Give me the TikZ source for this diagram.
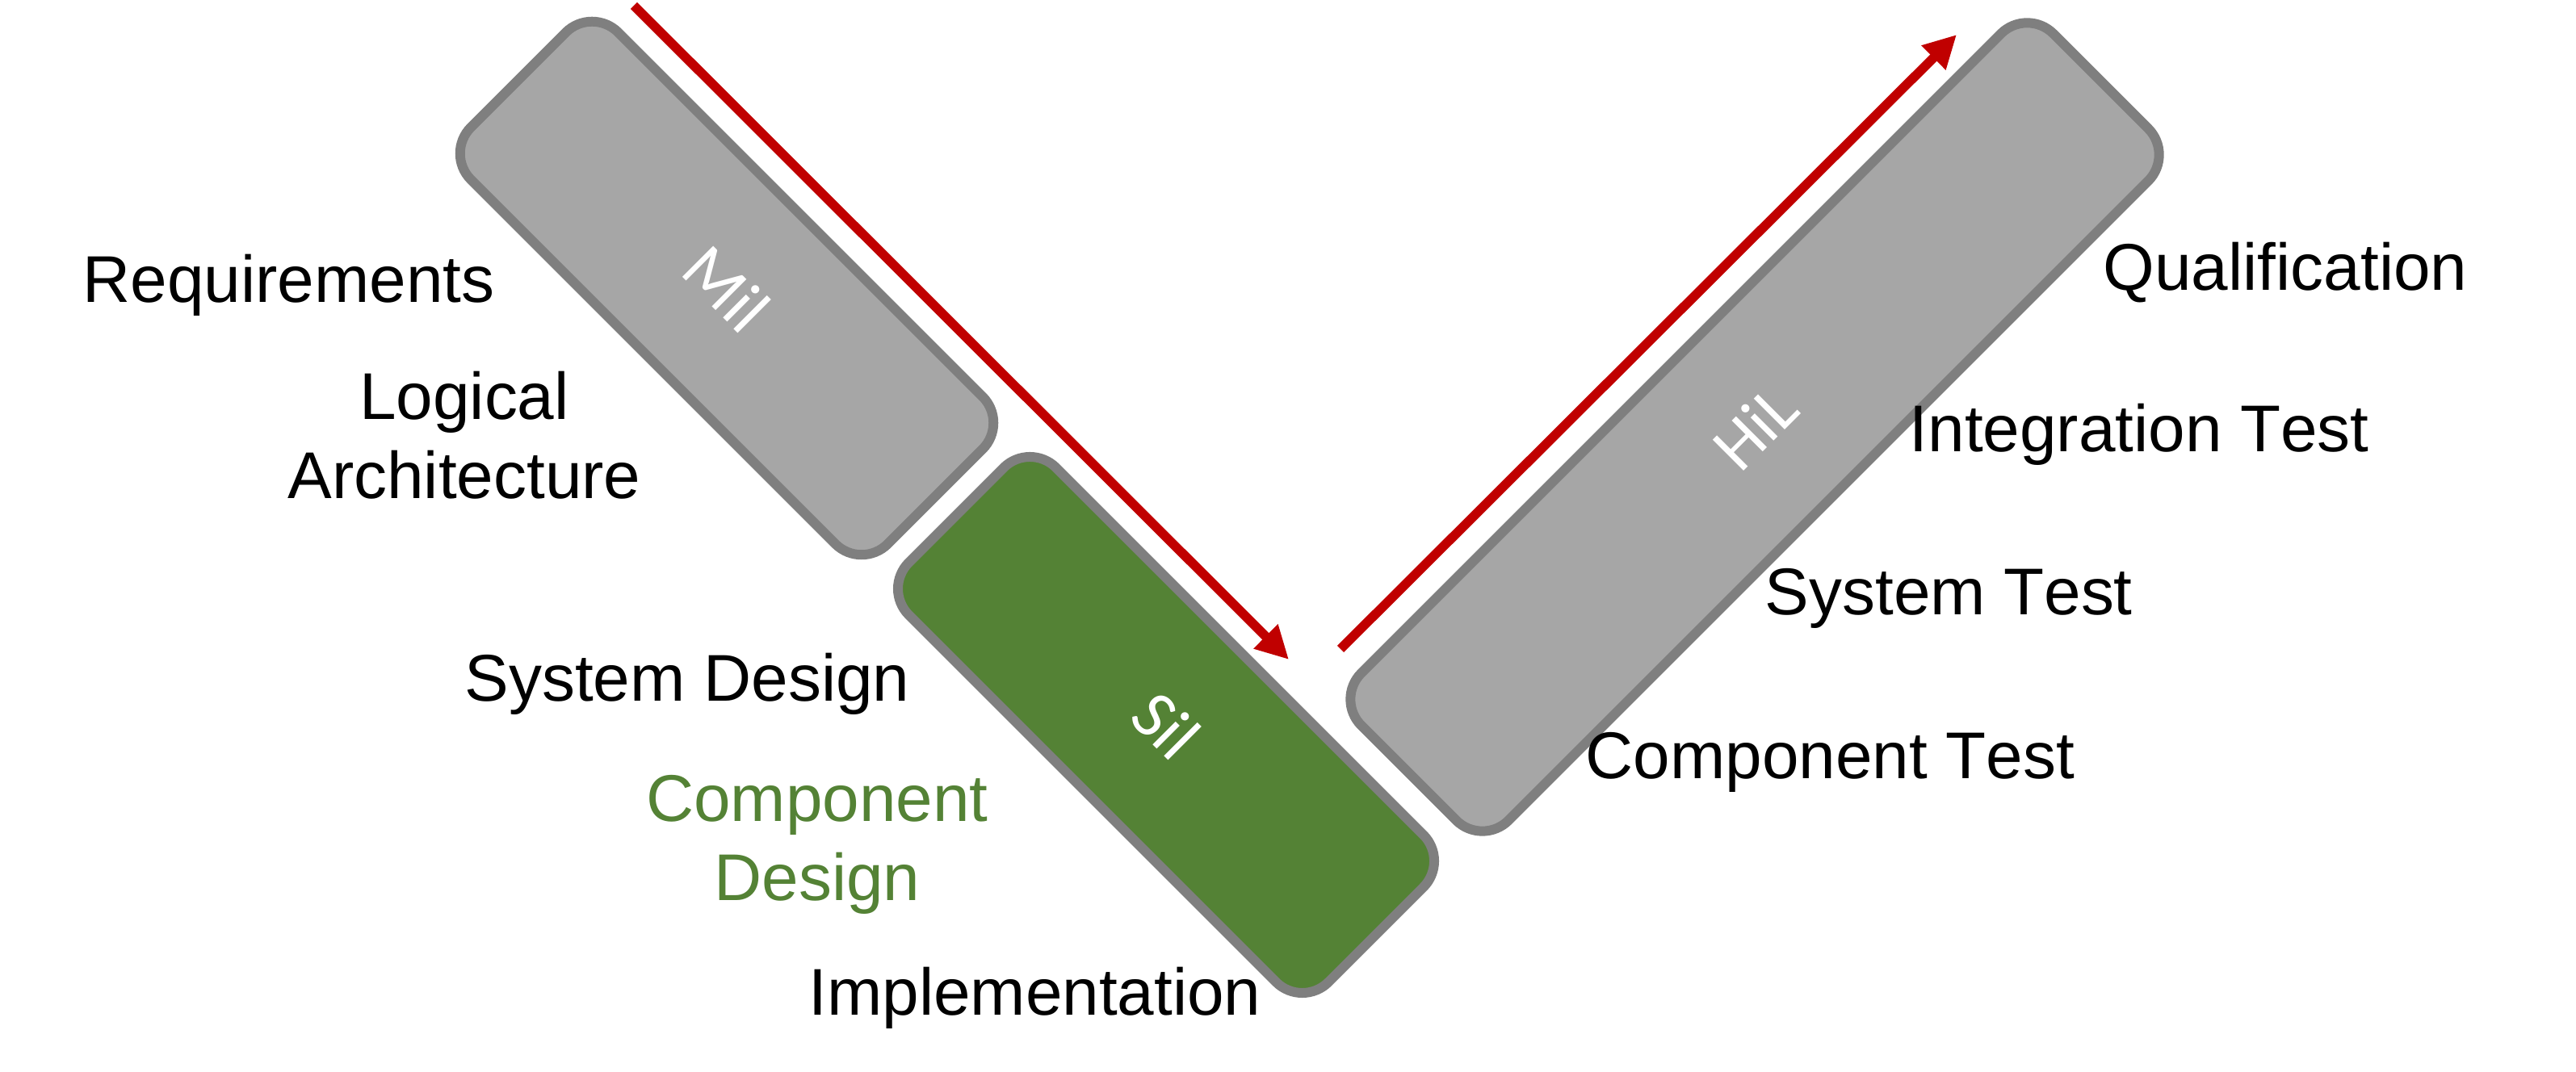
\documentclass[tikz,border=0pt]{standalone}
\usepackage{fontspec}
\setmainfont[Kerning=Off]{Liberation Sans}
\newfontfamily\boxfont{Carlito}
\usetikzlibrary{arrows.meta}

\definecolor{boxgray}{HTML}{A6A6A6}
\definecolor{edgegray}{HTML}{7F7F7F}
\definecolor{simgreen}{HTML}{548235}
\definecolor{flowred}{HTML}{C00000}

\tikzset{
  phase/.style={draw=edgegray, line width=1.2mm, rounded corners=4.6mm, inner sep=0pt,
    minimum height=2.58cm, text=white, font=\boxfont\fontsize{24}{28}\selectfont},
  flow/.style={draw=flowred, line width=1.15mm, -{Triangle[width=4.0mm,length=4.05mm]}},
  lbl/.style={inner sep=0pt, font=\fontsize{23.3}{27.9}\selectfont}
}

\begin{document}
\begin{tikzpicture}
  \useasboundingbox (0,0) rectangle (31.90,13.28);

  % the three stages of the V
  \node[phase, fill=boxgray, minimum width=7.30cm, rotate=-45] (MiL) at (9.00,9.71) {Mil};
  \node[phase, fill=simgreen, minimum width=7.35cm, rotate=-45] (SiL) at (14.44,4.30) {Sil};
  \node[phase, fill=boxgray, minimum width=12.12cm, rotate=45] (HiL) at (21.73,7.99) {HiL};

  % arrows along the V
  \coordinate (A) at (7.85,13.21);
  \coordinate (B) at (15.96,5.11);
  \coordinate (C) at (16.60,5.24);
  \coordinate (D) at (24.23,12.85);
  \draw[flow] (A) -- (B); % going down
  \draw[flow] (C) -- (D); % going up

  % design side
  \node[lbl, anchor=base west] (req) at (1.02,9.53) {Requirements};
  \node[lbl, align=center] (arch) at (5.75,7.89) {Logical\\Architecture};
  \node[lbl, anchor=base west] (sysd) at (5.75,4.59) {System Design};
  \node[lbl, align=center, text=simgreen] (compd) at (10.12,2.82) {Component\\Design};
  \node[lbl, anchor=base west] (impl) at (10.01,0.70) {Implementation};

  % test side
  \node[lbl, anchor=base west] (qual) at (26.04,9.68) {Qualification};
  \node[lbl, anchor=base west] (integ) at (23.64,7.68) {Integration Test};
  \node[lbl, anchor=base west] (syst) at (21.85,5.66) {System Test};
  \node[lbl, anchor=base west] (compt) at (19.63,3.63) {Component Test};
\end{tikzpicture}
\end{document}
